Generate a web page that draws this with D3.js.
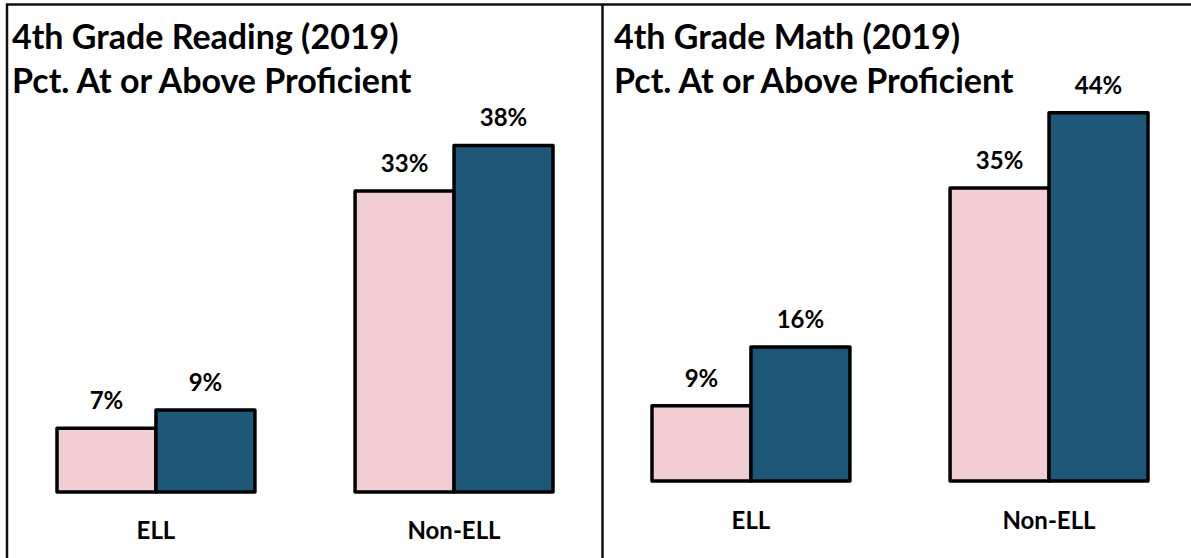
<!DOCTYPE html>
<html lang="en">
<head>
    <meta charset="UTF-8">
    <script src="https://d3js.org/d3.v7.min.js"></script>
    <style>
        body { margin: 0; background: white; }
        text { font-family: Lato, "Open Sans", sans-serif; font-weight: bold; fill: black; }
    </style>
</head>
<body>
    <svg id="chart" width="1191" height="558"></svg>

    <script>
        // data
        const categories = ["ELL", "Non-ELL"];
        const series = ["pink", "blue"];
        const readingPink = [7, 33];
        const readingBlue = [9, 38];
        const mathPink = [9, 35];
        const mathBlue = [16, 44];
        const readingTitle = ["4th Grade Reading (2019)", "Pct. At or Above Proficient"];
        const mathTitle = ["4th Grade Math (2019)", "Pct. At or Above Proficient"];

        const colors = { pink: "#f2cdd3", blue: "#1e5879" };

        const svg = d3.select("#chart");

        // frame lines
        svg.append("line").attr("x1", 7).attr("x2", 7).attr("y1", 4).attr("y2", 558)
            .attr("stroke", "#111").attr("stroke-width", 2.5);
        svg.append("line").attr("x1", 6).attr("x2", 1191).attr("y1", 4.5).attr("y2", 4.5)
            .attr("stroke", "#111").attr("stroke-width", 2.5);
        svg.append("line").attr("x1", 602.5).attr("x2", 602.5).attr("y1", 4).attr("y2", 558)
            .attr("stroke", "#111").attr("stroke-width", 2.5);

        const panels = [
            { title: readingTitle, pink: readingPink, blue: readingBlue, tx: 12,
              xr: [57, 553], base: 492, ymax: 40, ytop: 127.2, catY: 539 },
            { title: mathTitle, pink: mathPink, blue: mathBlue, tx: 614,
              xr: [652, 1148], base: 481, ymax: 45, ytop: 104.4, catY: 529 }
        ];

        panels.forEach(p => {
            const g = svg.append("g");

            g.selectAll(".title")
                .data(p.title)
                .enter().append("text")
                .attr("x", p.tx)
                .attr("y", (d, i) => 49 + i * 44)
                .style("font-size", "34px")
                .text(d => d);

            const x = d3.scaleBand().domain(categories).range(p.xr).paddingInner(0.336);
            const xs = d3.scaleBand().domain(series).range([0, x.bandwidth()]);
            const y = d3.scaleLinear().domain([0, p.ymax]).range([p.base, p.ytop]);

            const rows = [];
            categories.forEach((c, i) => {
                series.forEach(s => rows.push({ cat: c, s: s, v: p[s][i] }));
            });

            g.selectAll(".bar")
                .data(rows)
                .enter().append("rect")
                .attr("x", d => x(d.cat) + xs(d.s))
                .attr("y", d => y(d.v))
                .attr("width", xs.bandwidth())
                .attr("height", d => y(0) - y(d.v))
                .attr("fill", d => colors[d.s])
                .attr("stroke", "#000")
                .attr("stroke-width", 3.5)
                .attr("stroke-linejoin", "round");

            g.selectAll(".val")
                .data(rows)
                .enter().append("text")
                .attr("x", d => x(d.cat) + xs(d.s) + xs.bandwidth() / 2)
                .attr("y", d => y(d.v) - 19)
                .attr("text-anchor", "middle")
                .style("font-size", "24px")
                .text(d => d.v + "%");

            g.selectAll(".cat")
                .data(categories)
                .enter().append("text")
                .attr("x", d => x(d) + x.bandwidth() / 2)
                .attr("y", p.catY)
                .attr("text-anchor", "middle")
                .style("font-size", "24px")
                .text(d => d);
        });
    </script>
</body>
</html>
